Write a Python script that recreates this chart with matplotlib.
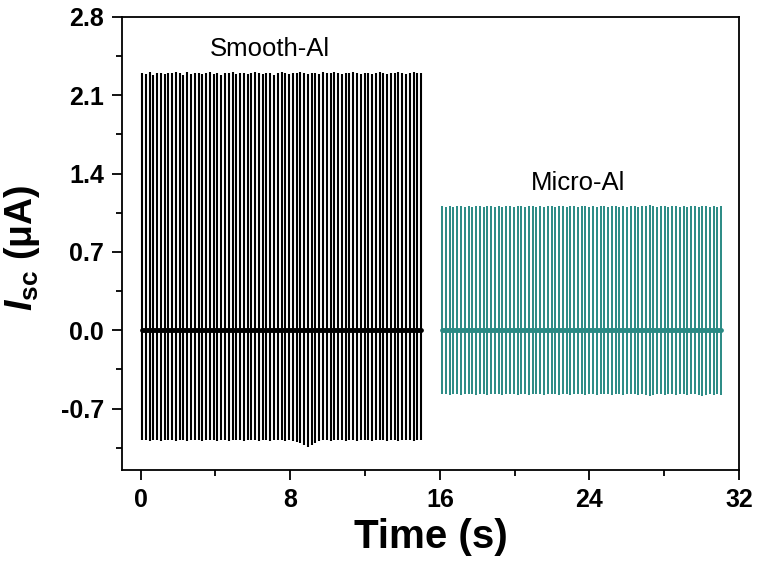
import matplotlib.pyplot as plt
import numpy as np

plt.rcParams['font.family'] = ['Liberation Sans', 'DejaVu Sans']
plt.rcParams['mathtext.fontset'] = 'custom'
plt.rcParams['mathtext.it'] = 'Liberation Sans:italic:bold'
plt.rcParams['mathtext.rm'] = 'Liberation Sans:bold'
plt.rcParams['mathtext.bf'] = 'Liberation Sans:bold'

period = 0.2017  # s between pulses
smooth_t0 = 0.07
micro_t0 = 16.12

smooth_pos = [2.30, 2.29, 2.31, 2.28, 2.30, 2.30, 2.29, 2.30, 2.30, 2.31, 2.30, 2.28, 2.31, 2.29, 2.30,
              2.30, 2.29, 2.30, 2.31, 2.29, 2.30, 2.28, 2.30, 2.30, 2.31, 2.29, 2.30, 2.30, 2.29, 2.30,
              2.31, 2.30, 2.29, 2.30, 2.30, 2.28, 2.30, 2.31, 2.30, 2.29, 2.30, 2.30, 2.31, 2.30, 2.29,
              2.30, 2.30, 2.29, 2.31, 2.30, 2.30, 2.31, 2.30, 2.29, 2.30, 2.30, 2.31, 2.30, 2.29, 2.30,
              2.30, 2.29, 2.30, 2.31, 2.30, 2.29, 2.30, 2.30, 2.31, 2.30, 2.29, 2.30, 2.31, 2.30, 2.30]
smooth_neg = [-0.98, -0.98, -0.99, -0.98, -0.98, -0.99, -0.98, -0.98, -0.98, -0.99, -0.98, -0.98, -0.99, -0.98, -0.98,
              -0.98, -0.99, -0.98, -0.98, -0.98, -0.99, -0.98, -0.98, -0.99, -0.98, -0.98, -0.98, -0.99, -0.98, -0.98,
              -0.98, -0.99, -0.98, -0.98, -0.99, -0.98, -0.98, -0.98, -0.99, -0.98, -0.99, -1.00, -1.01, -1.03, -1.04,
              -1.03, -1.01, -0.99, -0.98, -0.98, -0.99, -0.98, -0.98, -0.98, -0.99, -0.98, -0.98, -0.99, -0.98, -0.98,
              -0.98, -0.99, -0.98, -0.98, -0.98, -0.99, -0.98, -0.98, -0.99, -0.98, -0.98, -0.98, -0.99, -0.98, -0.98]
micro_pos = [1.11, 1.10, 1.11, 1.10, 1.11, 1.11, 1.10, 1.11, 1.10, 1.11, 1.11, 1.10, 1.11, 1.11, 1.10,
             1.11, 1.10, 1.11, 1.11, 1.10, 1.11, 1.11, 1.10, 1.11, 1.11, 1.10, 1.11, 1.10, 1.11, 1.11,
             1.10, 1.11, 1.11, 1.10, 1.11, 1.11, 1.10, 1.11, 1.11, 1.10, 1.11, 1.10, 1.11, 1.11, 1.10,
             1.11, 1.11, 1.10, 1.11, 1.10, 1.11, 1.11, 1.10, 1.11, 1.11, 1.12, 1.11, 1.10, 1.11, 1.11,
             1.10, 1.11, 1.11, 1.10, 1.11, 1.10, 1.11, 1.11, 1.10, 1.11, 1.11, 1.10, 1.11, 1.10, 1.11]
micro_neg = [-0.57, -0.57, -0.58, -0.57, -0.57, -0.58, -0.57, -0.57, -0.57, -0.58, -0.57, -0.57, -0.58, -0.57, -0.57,
             -0.57, -0.58, -0.57, -0.57, -0.57, -0.58, -0.57, -0.57, -0.58, -0.57, -0.57, -0.57, -0.58, -0.57, -0.57,
             -0.57, -0.58, -0.57, -0.57, -0.58, -0.57, -0.57, -0.57, -0.58, -0.57, -0.57, -0.58, -0.57, -0.57, -0.57,
             -0.58, -0.57, -0.57, -0.58, -0.57, -0.57, -0.57, -0.58, -0.57, -0.58, -0.59, -0.58, -0.57, -0.57, -0.58,
             -0.57, -0.57, -0.58, -0.57, -0.57, -0.58, -0.57, -0.57, -0.58, -0.59, -0.58, -0.57, -0.58, -0.57, -0.58]

xticks = [0, 8, 16, 24, 32]
yticks = [-0.7, 0.0, 0.7, 1.4, 2.1, 2.8]
teal = '#2a8a84'

fig = plt.figure(figsize=(7.6, 5.65), dpi=100)
ax = fig.add_axes([0.1605, 0.168, 0.812, 0.802])

t_s = smooth_t0 + period * np.arange(len(smooth_pos))
t_m = micro_t0 + period * np.arange(len(micro_pos))
ax.vlines(t_s, smooth_neg, smooth_pos, color='black', lw=1.5)
ax.plot([t_s[0], t_s[-1]], [0, 0], color='black', lw=3.5, solid_capstyle='round')
ax.vlines(t_m, micro_neg, micro_pos, color=teal, lw=1.4)
ax.plot([t_m[0], t_m[-1]], [0, 0], color=teal, lw=3.5, solid_capstyle='round')

ax.text(6.9, 2.51, 'Smooth-Al', fontsize=18.5, ha='center', va='center')
ax.text(23.4, 1.32, 'Micro-Al', fontsize=18.5, ha='center', va='center')

ax.set_xlim(-1, 32)
ax.set_ylim(-1.25, 2.8)
ax.set_xticks(xticks)
ax.set_xticks([4, 12, 20, 28], minor=True)
ax.set_yticks(yticks)
ax.set_yticklabels(['%.1f' % v for v in yticks])
ax.set_yticks([-1.05, -0.35, 0.35, 1.05, 1.75, 2.45], minor=True)
ax.tick_params(which='major', direction='out', length=7, width=1.3, labelsize=18, pad=6)
ax.tick_params(which='minor', direction='out', length=4, width=1.3)
for lab in ax.get_xticklabels() + ax.get_yticklabels():
    lab.set_fontweight('bold')
for sp in ax.spines.values():
    sp.set_linewidth(1.3)

ax.set_xlabel('Time (s)', fontsize=29, fontweight='bold', labelpad=4)
ax.set_ylabel(r'$\mathit{I}_{\mathrm{sc}}$ (μA)', fontsize=27, fontweight='bold')
ax.yaxis.set_label_coords(-0.13, 0.49)

plt.savefig('out.png', dpi=100)
